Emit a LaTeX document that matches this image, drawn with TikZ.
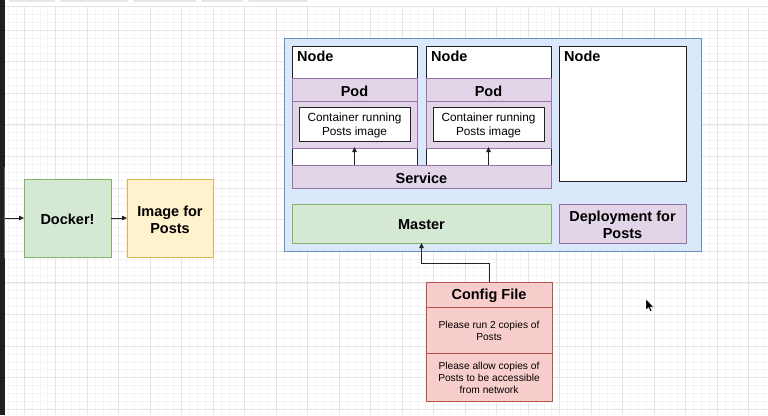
\documentclass[tikz,border=0pt]{standalone}
\usepackage{fontspec}
\setmainfont{Liberation Sans}
\usetikzlibrary{arrows.meta}
\definecolor{bluef}{HTML}{DAE8FC}\definecolor{blued}{HTML}{6C8EBF}
\definecolor{purf}{HTML}{E1D5E7}\definecolor{purd}{HTML}{9673A6}
\definecolor{grnf}{HTML}{D5E8D4}\definecolor{grnd}{HTML}{82B366}
\definecolor{yelf}{HTML}{FFF2CC}\definecolor{yeld}{HTML}{D6B656}
\definecolor{redf}{HTML}{F8CECC}\definecolor{redd}{HTML}{B85450}
\definecolor{edge}{HTML}{222222}
\definecolor{gmin}{HTML}{F4F4F4}\definecolor{gmaj}{HTML}{E4E4E4}
\begin{document}
\begin{tikzpicture}[x=1pt,y=-1pt,
  box/.style={draw, line width=0.8pt, inner sep=0pt, outer sep=0pt, anchor=north west},
  whitebox/.style={box, fill=white, draw=edge},
  purbox/.style={box, fill=purf, draw=purd},
  grnbox/.style={box, fill=grnf, draw=grnd},
  yelbox/.style={box, fill=yelf, draw=yeld},
  redbox/.style={box, fill=redf, draw=redd},
  bigtxt/.style={font=\fontsize{14.5}{17}\selectfont\bfseries, align=center, yshift=-1.5pt},
  midtxt/.style={font=\fontsize{11.8}{14}\selectfont, align=center, yshift=-1.5pt},
  smltxt/.style={font=\fontsize{10.2}{11.8}\selectfont, align=center, yshift=-1pt},
  arr/.style={draw=edge, line width=0.8pt, -{Triangle[length=5pt,width=4.5pt]}},
  gridminor/.style={draw=gmin, line width=0.5pt},
  gridmajor/.style={draw=gmaj, line width=0.7pt}]
\useasboundingbox (0,0) rectangle (768,415);
\fill[white] (0,0) rectangle (768,415);
% grid
\foreach \i in {0,...,97} \draw[gridminor] ({0.375+7.875*\i},6) -- ({0.375+7.875*\i},415);
\foreach \i in {0,...,52} \draw[gridminor] (0,{6.3+7.9*\i}) -- (768,{6.3+7.9*\i});
\foreach \i in {0,...,24} \draw[gridmajor] ({24+31.5*\i},6) -- ({24+31.5*\i},415);
\foreach \i in {0,...,12} \draw[gridmajor] (0,{30+31.6*\i}) -- (768,{30+31.6*\i});
% top strip
\fill[white] (0,0) rectangle (768,6);
\draw[gmaj, line width=0.8pt] (0,6) -- (768,6);
\foreach \a/\b in {9/55,60/128,133/196,201/243,248/308}
  \fill[gmaj, rounded corners=1pt] (\a,-2) rectangle (\b,1.5);
% left dark strip
\fill[black!88] (0,0) rectangle (4.5,415);
\fill[black!60] (3.5,167) rectangle (5,258);

% cluster
\node[box, fill=bluef, draw=blued, minimum width=417pt, minimum height=213pt] (cluster) at (284,38) {};
% node boxes
\node[whitebox, minimum width=125pt, minimum height=119pt] (node1) at (292,46) {};
\node[whitebox, minimum width=125pt, minimum height=119pt] (node2) at (426,46) {};
\node[whitebox, minimum width=127pt, minimum height=135pt] (node3) at (559,46) {};
\node[bigtxt, anchor=west, inner sep=0pt, yshift=1pt] (n1t) at (297,56) {Node};
\node[bigtxt, anchor=west, inner sep=0pt, yshift=1pt] (n2t) at (431,56) {Node};
\node[bigtxt, anchor=west, inner sep=0pt, yshift=1pt] (n3t) at (564,56) {Node};
% pods
\node[purbox, minimum width=125pt, minimum height=47pt] (pb1) at (292,101) {};
\node[purbox, minimum width=125pt, minimum height=23pt] (ph1) at (292,78) {};
\node[bigtxt] at (ph1.center) {Pod};
\node[purbox, minimum width=125pt, minimum height=47pt] (pb2) at (426,101) {};
\node[purbox, minimum width=125pt, minimum height=23pt] (ph2) at (426,78) {};
\node[bigtxt] at (ph2.center) {Pod};
\node[whitebox, minimum width=111pt, minimum height=34pt] (c1) at (299,107) {};
\node[midtxt] at (c1.center) {Container running\\Posts image};
\node[whitebox, minimum width=111pt, minimum height=34pt] (c2) at (433,107) {};
\node[midtxt] at (c2.center) {Container running\\Posts image};
% service
\node[purbox, minimum width=259pt, minimum height=23pt] (service) at (292,165) {};
\node[bigtxt] at (service.center) {Service};
\draw[arr, shorten >=-1pt] (c1.south |- service.north) -- (c1.south |- pb1.south);
\draw[arr, shorten >=-1pt] (c2.south |- service.north) -- (c2.south |- pb2.south);
% master & deployment
\node[grnbox, minimum width=259pt, minimum height=39pt] (master) at (292,204) {};
\node[bigtxt] at (master.center) {Master};
\node[purbox, minimum width=127pt, minimum height=39pt] (deploy) at (559,204) {};
\node[bigtxt] at (deploy.center) {Deployment for\\Posts};
% docker & image
\node[grnbox, minimum width=87pt, minimum height=78pt] (docker) at (24,179) {};
\node[bigtxt] at (docker.center) {Docker!};
\node[yelbox, minimum width=86pt, minimum height=78pt] (image) at (127,179) {};
\node[bigtxt] at (image.center) {Image for\\Posts};
\coordinate (lin) at (5,218);
\draw[arr] (lin) -- (docker.west);
\draw[arr] (docker.east) -- (image.west);
% config file
\node[redbox, minimum width=126pt, minimum height=25pt] (cfgh) at (426,282) {};
\node[bigtxt] at (cfgh.center) {Config File};
\node[redbox, minimum width=126pt, minimum height=46pt] (cfg1) at (426,307) {};
\node[smltxt] at (cfg1.center) {Please run 2 copies of\\Posts};
\node[redbox, minimum width=126pt, minimum height=48pt] (cfg2) at (426,353) {};
\node[smltxt] at (cfg2.center) {Please allow copies of\\Posts to be accessible\\from network};
\draw[arr] (cfgh.north) -- ++(0,-19) -| (master.south);
% cursor
\filldraw[fill=black, draw=white, line width=0.4pt] (646,299) -- (646,310) -- (648.5,307.6) -- (650.4,311.6) -- (652,310.9) -- (650.2,307) -- (653.5,307) -- cycle;
\end{tikzpicture}
\end{document}
